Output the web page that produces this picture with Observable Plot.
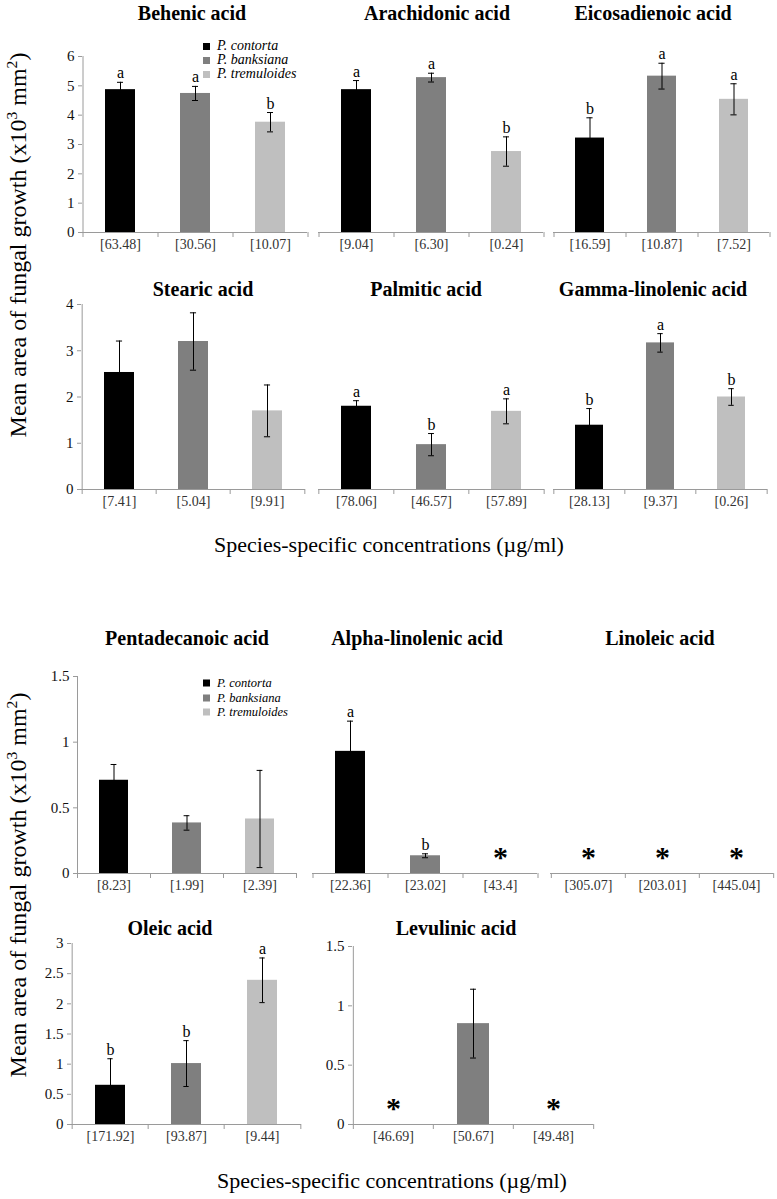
<!DOCTYPE html>
<html><head><meta charset="utf-8">
<script src="https://cdn.jsdelivr.net/npm/d3@7"></script>
<script src="https://cdn.jsdelivr.net/npm/@observablehq/plot@0.6"></script>
<style>
body{margin:0;background:#fff;}
#root{position:relative;width:777px;height:1199px;overflow:hidden;font-family:"Liberation Serif","Times New Roman",serif;color:#000;}
.abs{position:absolute;white-space:nowrap;font-family:"Liberation Serif","Times New Roman",serif;}
.title{font-weight:bold;font-size:20px;transform:translate(-50%,-50%);}
.ylab{font-size:24px;transform:translate(-50%,-50%) rotate(-90deg);}
.xlab{font-size:22px;transform:translate(-50%,-50%);}
.leg{font-style:italic;display:flex;align-items:center;}
.sw{display:inline-block;margin-right:7px;}
sup{font-size:65%;line-height:0;}
</style></head>
<body><div id="root"></div>
<script>
// ---- data ----
const species = ["P. contorta", "P. banksiana", "P. tremuloides"];
const speciesColors = ["#000000", "#7f7f7f", "#bfbfbf"];
const acids = ["Behenic acid", "Arachidonic acid", "Eicosadienoic acid",
  "Stearic acid", "Palmitic acid", "Gamma-linolenic acid",
  "Pentadecanoic acid", "Alpha-linolenic acid", "Linoleic acid",
  "Oleic acid", "Levulinic acid"];
// mean growth (x10^3 mm^2); null = no growth (*)
const means = [
  [4.87, 4.74, 3.76], [4.87, 5.28, 2.76], [3.22, 5.33, 4.54],
  [2.53, 3.20, 1.70], [1.80, 0.97, 1.69], [1.39, 3.17, 2.00],
  [0.71, 0.385, 0.415], [0.93, 0.135, null], [null, null, null],
  [0.65, 1.01, 2.39], [null, 0.85, null]
];
const errors = [
  [0.25, 0.24, 0.33], [0.31, 0.15, 0.50], [0.69, 0.44, 0.53],
  [0.68, 0.62, 0.56], [0.12, 0.24, 0.27], [0.36, 0.20, 0.18],
  [0.12, 0.055, 0.37], [0.23, 0.015, null], [null, null, null],
  [0.44, 0.38, 0.37], [null, 0.29, null]
];
const letters = [
  ["a", "a", "b"], ["a", "a", "b"], ["b", "a", "a"],
  ["", "", ""], ["a", "b", "a"], ["b", "a", "b"],
  ["", "", ""], ["a", "b", ""], ["", "", ""],
  ["b", "b", "a"], ["", "", ""]
];
const concentrations = [
  ["[63.48]", "[30.56]", "[10.07]"], ["[9.04]", "[6.30]", "[0.24]"], ["[16.59]", "[10.87]", "[7.52]"],
  ["[7.41]", "[5.04]", "[9.91]"], ["[78.06]", "[46.57]", "[57.89]"], ["[28.13]", "[9.37]", "[0.26]"],
  ["[8.23]", "[1.99]", "[2.39]"], ["[22.36]", "[23.02]", "[43.4]"], ["[305.07]", "[203.01]", "[445.04]"],
  ["[171.92]", "[93.87]", "[9.44]"], ["[46.69]", "[50.67]", "[49.48]"]
];
const yMaxes = [6, 6, 6, 4, 4, 4, 1.5, 1.5, 1.5, 3, 1.5];
const yTickSteps = [1, 1, 1, 1, 1, 1, 0.5, 0.5, 0.5, 0.5, 0.5];
const yAxisTitle = "Mean area of fungal growth (x10<sup>3</sup> mm<sup>2</sup>)";
const xAxisTitle = "Species-specific concentrations (\u00b5g/ml)";

// ---- layout (pixels) ----
const layout = [
  {x0:82, x1:307, yZero:232, yTop:56, axis:true, tx:192, ty:13},
  {x0:318, x1:543, yZero:232, yTop:56, axis:false, tx:437, ty:13},
  {x0:553, x1:769, yZero:232, yTop:56, axis:false, tx:653, ty:13},
  {x0:81, x1:305, yZero:489, yTop:304, axis:true, tx:203, ty:289},
  {x0:318, x1:544, yZero:489, yTop:304, axis:false, tx:426, ty:289},
  {x0:553, x1:767, yZero:489, yTop:304, axis:false, tx:653, ty:289},
  {x0:77, x1:296, yZero:873, yTop:676, axis:true, tx:187, ty:638},
  {x0:312, x1:537, yZero:873, yTop:676, axis:false, tx:417, ty:638},
  {x0:550, x1:773, yZero:873, yTop:676, axis:false, tx:660, ty:638},
  {x0:71, x1:301, yZero:1124, yTop:943, axis:true, tx:170, ty:928},
  {x0:352, x1:593, yZero:1124, yTop:946, axis:true, tx:456, ty:928}
];
const legends = [
  {x:203, y:46, dy:14, fs:14, sw:7},
  {x:203, y:683, dy:14.5, fs:12.5, sw:7}
];
const yLabels = [{x:18, y:245}, {x:18, y:885}];
const xLabels = [{x:389, y:545}, {x:392, y:1181}];

const root = document.getElementById("root");
const axisGray = "#9a9a9a";

function addDiv(cls, html, x, y, extra) {
  const d = document.createElement("div");
  d.className = "abs " + cls;
  d.innerHTML = html;
  d.style.left = x + "px"; d.style.top = y + "px";
  if (extra) Object.assign(d.style, extra);
  root.appendChild(d);
  return d;
}

acids.forEach((acid, i) => {
  const L = layout[i];
  const mL = 40, mR = 6, mT = 40, mB = 26;
  const w = L.x1 - L.x0, h = L.yZero - L.yTop;
  const step = w / 3;
  const cap = step * 0.2 - 3;
  const data = species.map((s, j) => ({s, m: means[i][j], e: errors[i][j], l: letters[i][j]}));
  const bars = data.filter(d => d.m != null);
  const stars = data.filter(d => d.m == null);
  const marks = [
    Plot.barY(bars, {x: "s", y: "m", fill: "s"}),
    Plot.ruleX(bars, {x: "s", y1: d => d.m - d.e, y2: d => d.m + d.e, stroke: "#000", strokeWidth: 1}),
    Plot.tickY(bars, {x: "s", y: d => d.m + d.e, stroke: "#000", insetLeft: cap, insetRight: cap}),
    Plot.tickY(bars, {x: "s", y: d => d.m - d.e, stroke: "#000", insetLeft: cap, insetRight: cap}),
    Plot.text(bars.filter(d => d.l), {x: "s", y: d => d.m + d.e, text: "l", dy: -4, lineAnchor: "bottom", fontSize: 16, fill: "#000"}),
    Plot.text(stars, {x: "s", y: 0, text: () => "*", dy: -16, fontSize: 30, fontWeight: "bold", fill: "#000"}),
    Plot.ruleY([0], {stroke: axisGray}),
    // category boundary ticks (Excel style)
    Plot.ruleX(species, {x: d => d, dx: -step/2, y1: 0, y2: 0, insetBottom: -5, stroke: axisGray}),
    Plot.ruleX([species[2]], {x: d => d, dx: step/2, y1: 0, y2: 0, insetBottom: -5, stroke: axisGray}),
    Plot.axisX({tickSize: 0, tickPadding: 7, tickFormat: d => concentrations[i][species.indexOf(d)], fontSize: 14, fill: "#333", label: null})
  ];
  if (L.axis) {
    marks.push(Plot.axisY({ticks: d3.range(0, yMaxes[i] + 1e-9, yTickSteps[i]), tickFormat: d => String(d), tickSize: 4, tickPadding: 4, stroke: axisGray, fontSize: 15, fill: "#111", label: null}));
    marks.push(Plot.ruleX([species[0]], {x: d => d, dx: -step/2, y1: 0, y2: yMaxes[i], stroke: axisGray}));
  }
  const plot = Plot.plot({
    width: w + mL + mR, height: h + mT + mB,
    marginLeft: mL, marginRight: mR, marginTop: mT, marginBottom: mB,
    style: {fontFamily: "'Liberation Serif', 'Times New Roman', serif", background: "transparent", overflow: "visible"},
    x: {domain: species, paddingInner: 0.6, paddingOuter: 0.3, label: null},
    y: {domain: [0, yMaxes[i]], axis: L.axis ? undefined : null, label: null},
    color: {domain: species, range: speciesColors},
    marks
  });
  plot.style.position = "absolute";
  plot.style.left = (L.x0 - mL) + "px";
  plot.style.top = (L.yTop - mT) + "px";
  root.appendChild(plot);
  addDiv("title", acid, L.tx, L.ty);
});

legends.forEach(g => {
  species.forEach((s, j) => {
    addDiv("leg", `<span class="sw" style="width:${g.sw}px;height:${g.sw}px;background:${speciesColors[j]}"></span>${s}`,
      g.x, g.y + j*g.dy, {fontSize: g.fs + "px", transform: "translateY(-50%)"});
  });
});
yLabels.forEach(p => addDiv("ylab", yAxisTitle, p.x, p.y));
xLabels.forEach(p => addDiv("xlab", xAxisTitle, p.x, p.y));
</script>
</body></html>
